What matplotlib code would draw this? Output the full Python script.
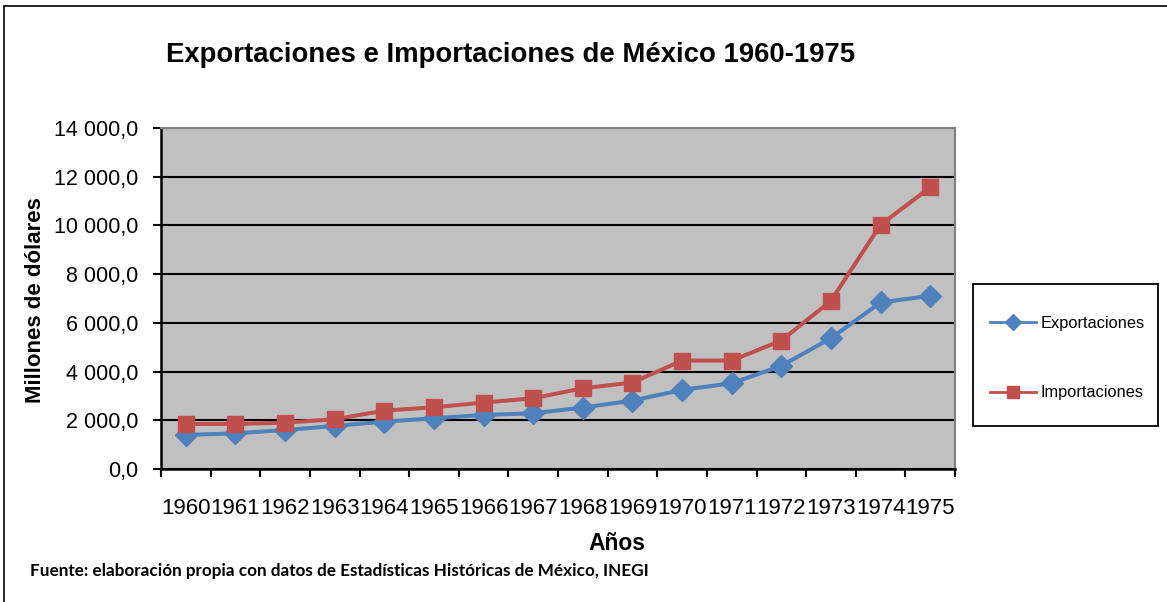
import matplotlib
matplotlib.use("Agg")
import matplotlib.pyplot as plt
from matplotlib.patches import Rectangle
from matplotlib.ticker import FuncFormatter, MultipleLocator, FixedLocator
import numpy as np

years = ["1960", "1961", "1962", "1963", "1964", "1965", "1966", "1967",
         "1968", "1969", "1970", "1971", "1972", "1973", "1974", "1975"]
exportaciones = [1400, 1466, 1600, 1767, 1945, 2082, 2219, 2288,
                 2521, 2808, 3247, 3521, 4233, 5370, 6836, 7110]
importaciones = [1849, 1849, 1904, 2041, 2397, 2534, 2726, 2904,
                 3315, 3548, 4452, 4452, 5274, 6904, 10027, 11562]

title = "Exportaciones e Importaciones de México 1960-1975"
ylabel = "Millones de dólares"
xlabel = "Años"
source = "Fuente: elaboración propia con datos de Estadísticas Históricas de México, INEGI"

plt.rcParams['font.family'] = ['Liberation Sans', 'DejaVu Sans']

W, H = 1167, 602
fig = plt.figure(figsize=(W / 100, H / 100), dpi=100)
fig.patch.set_facecolor("white")

# outer frame
fig.add_artist(Rectangle((4 / W, -0.01), 1.02, 1 - 6 / H + 0.01, transform=fig.transFigure,
                         fill=False, edgecolor="black", linewidth=1.2))

ax = fig.add_axes([161 / W, 1 - 469 / H, (955 - 161) / W, (469 - 128) / H])
ax.set_facecolor("#C0C0C0")

x = np.arange(len(years))
ax.plot(x, exportaciones, color="#4F81BD", linewidth=2.9, marker="D", markersize=11,
        label="Exportaciones", zorder=3)
ax.plot(x, importaciones, color="#C0504D", linewidth=2.9, marker="s", markersize=12,
        label="Importaciones", zorder=3)

ax.set_xlim(-0.5, len(years) - 0.5)
ax.set_ylim(0, 14000)
ax.yaxis.set_major_locator(MultipleLocator(2000))
ax.yaxis.set_major_formatter(FuncFormatter(lambda v, p: f"{int(v):,}".replace(",", " ") + ",0"))
ax.grid(axis="y", color="black", linewidth=1.5, zorder=1)
ax.set_axisbelow(True)

ax.xaxis.set_major_locator(FixedLocator(np.arange(-0.5, len(years), 1.0)))
ax.xaxis.set_major_formatter(FuncFormatter(lambda v, p: ""))
ax.xaxis.set_minor_locator(FixedLocator(x))
ax.set_xticklabels(years, minor=True)
ax.tick_params(axis="x", which="minor", length=0, pad=21, labelsize=16)
ax.tick_params(axis="x", which="major", length=6, width=1.5, direction="out", color="black")
ax.tick_params(axis="y", length=6, width=1.5, direction="out", labelsize=15.5, pad=10.5)

for s in ["left", "bottom"]:
    ax.spines[s].set_color("black")
    ax.spines[s].set_linewidth(1.8)
for s in ["top", "right"]:
    ax.spines[s].set_color("#808080")
    ax.spines[s].set_linewidth(1.5)

fig.text(511 / W, 1 - 55 / H, title, ha="center", va="center", fontsize=19.8, fontweight="bold")
fig.text(36 / W, 1 - 300 / H, ylabel, ha="center", va="center", rotation=90,
         fontsize=16, fontweight="bold")
fig.text(617 / W, 1 - 544 / H, xlabel, ha="center", va="center", fontsize=16.5, fontweight="bold")
fig.text(30 / W, 1 - 571 / H, source, ha="left", va="center", fontsize=12.3,
         fontweight="bold", family=["Lato", "DejaVu Sans"])

# legend frame
fig.add_artist(Rectangle((973 / W, 1 - 426 / H), (1158 - 973) / W, (426 - 284) / H,
                         transform=fig.transFigure, fill=False, edgecolor="black", linewidth=1.3))
leg = fig.legend(loc="center left", bbox_to_anchor=(990 / W, 1 - 358 / H), frameon=False,
                 fontsize=11.8, labelspacing=3.35, handlelength=2.8, handletextpad=0.3,
                 borderpad=0, borderaxespad=0, markerscale=0.7)
for h in leg.legend_handles:
    h.set_linewidth(2)

fig.savefig("out.png", dpi=100)
